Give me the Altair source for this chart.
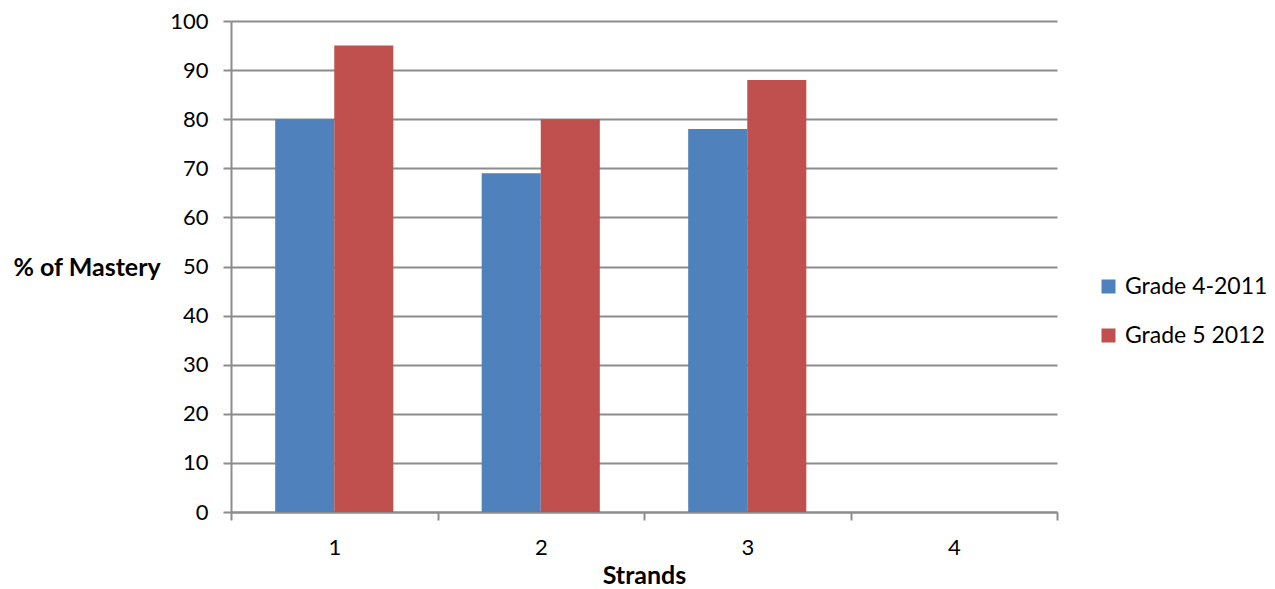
import altair as alt
import pandas as pd

strands = [1, 2, 3]
grade4_2011 = [80, 69, 78]
grade5_2012 = [95, 80, 88]
series_names = ["Grade 4-2011", "Grade 5 2012"]
x_ticks = [0.5, 1, 1.5, 2, 2.5, 3, 3.5, 4, 4.5]

rows = []
for s, a, b in zip(strands, grade4_2011, grade5_2012):
    rows.append({"strand": s, "series": series_names[0], "value": a, "idx": 0})
    rows.append({"strand": s, "series": series_names[1], "value": b, "idx": 1})
df = pd.DataFrame(rows)

FONT = "Lato"
GRID = "#8c8c8c"
BW = 0.286

chart = alt.Chart(df).transform_calculate(
    x0=f"datum.strand + (datum.idx - 1) * {BW}",
    x1=f"datum.strand + datum.idx * {BW}",
).mark_bar().encode(
    x=alt.X("x0:Q",
            scale=alt.Scale(domain=[0.5, 4.5], nice=False, zero=False),
            axis=alt.Axis(values=x_ticks, grid=False, title="Strands",
                          labelExpr="datum.value % 1 === 0 ? format(datum.value, 'd') : ''",
                          labelOverlap=False, labelBound=False,
                          tickOpacity={"condition": {"test": "datum.value % 1 === 0", "value": 0}, "value": 1},
                          tickSize=8, tickWidth=2, tickColor=GRID,
                          domainColor=GRID, domainWidth=2,
                          labelFont=FONT, labelFontSize=22, labelColor="#000000",
                          labelPadding=17, labelFlush=False,
                          titleFont=FONT, titleFontSize=25, titleFontWeight="bold",
                          titleColor="#000000", titlePadding=5)),
    x2="x1:Q",
    y=alt.Y("value:Q",
            scale=alt.Scale(domain=[0, 100], nice=False),
            axis=alt.Axis(values=list(range(0, 101, 10)), grid=True,
                          gridColor=GRID, gridWidth=2,
                          tickSize=8, tickWidth=2, tickColor=GRID,
                          domainColor=GRID, domainWidth=2,
                          labelFont=FONT, labelFontSize=22, labelColor="#000000",
                          labelPadding=15, labelOverlap=False,
                          title="% of Mastery", titleAngle=0, titleAlign="left",
                          titleBaseline="middle", titleX=-218, titleY=246,
                          titleFont=FONT, titleFontSize=25, titleFontWeight="bold",
                          titleColor="#000000")),
    y2=alt.datum(0),
    color=alt.Color("series:N",
                    scale=alt.Scale(domain=series_names, range=["#4F81BD", "#C0504D"]),
                    legend=alt.Legend(title=None, orient="none", legendX=866, legendY=254,
                                      symbolType="square", symbolSize=196,
                                      symbolStrokeWidth=0, symbolOpacity=1,
                                      labelFont=FONT, labelFontSize=23, labelColor="#000000",
                                      rowPadding=25, labelOffset=5)),
).properties(
    width=826, height=491,
    autosize=alt.AutoSizeParams(type="none"),
    padding={"left": 223, "top": 13, "right": 210, "bottom": 80},
).configure_view(stroke=None)

chart.save("out.html", embed_options={"renderer": "svg", "actions": False})
